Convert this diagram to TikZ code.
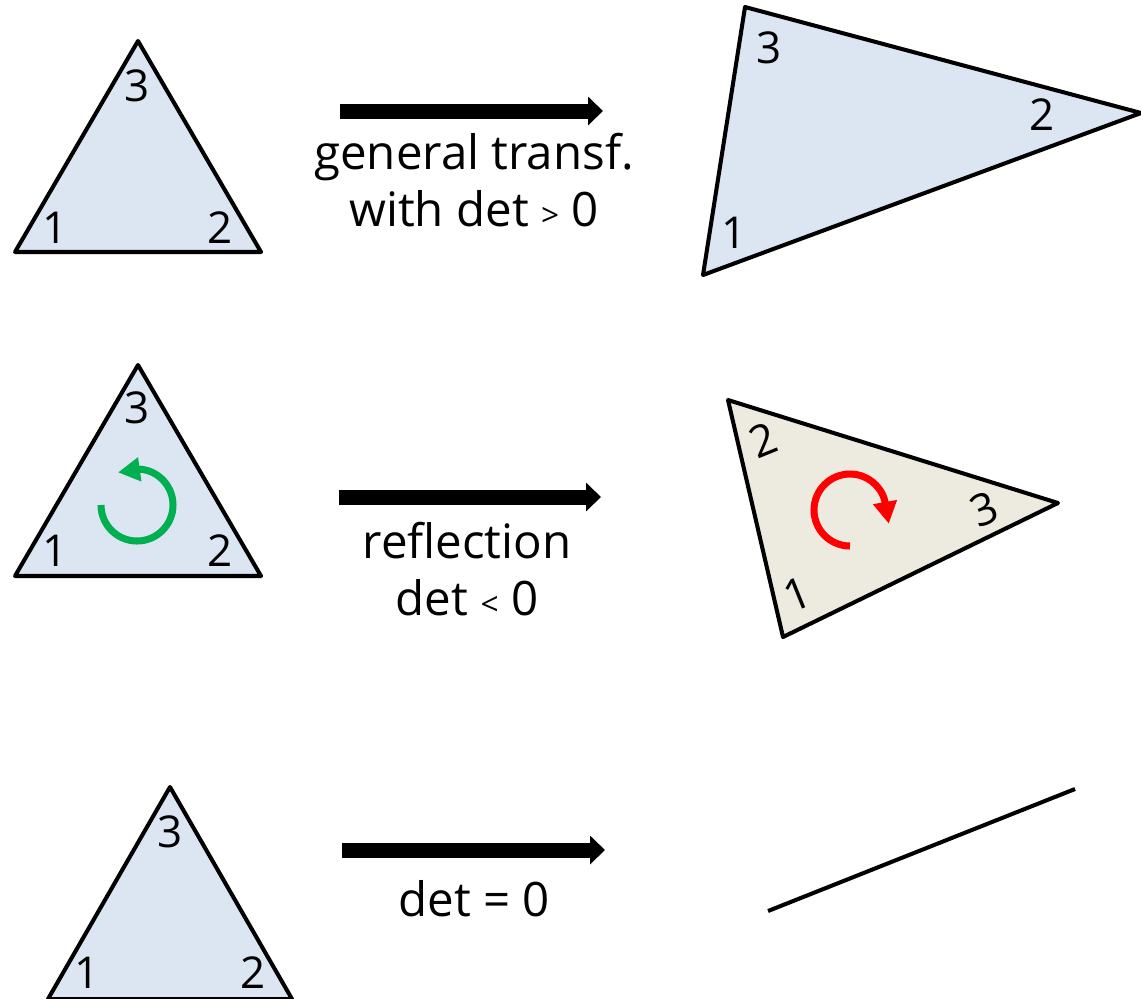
\documentclass[tikz,border=0pt]{standalone}
\usepackage{fontspec}
\setmainfont{Open Sans}
\usetikzlibrary{arrows.meta}
\definecolor{triblue}{HTML}{DCE6F2}
\definecolor{tribeige}{HTML}{EDEBE0}
\definecolor{turngreen}{HTML}{00B050}
\definecolor{turnred}{HTML}{FF0000}
\begin{document}
\begin{tikzpicture}[
		x=0.02cm, y=-0.02cm,
		tri/.style={
			draw,
			line width=2.3pt,
			line join=round
		},
		num/.style={
			inner sep=0pt,
			font=\fontsize{25}{25}\selectfont
		},
		map/.style={
			line width=0.3cm,
			-{Triangle[length=0.3cm, width=0.56cm]}
		},
		lab/.style={
			align=center,
			font=\fontsize{27}{32}\selectfont
		},
		turn/.style={
			line width=4pt,
			-{Triangle[length=0.44cm, width=0.46cm]}
		}
		]
		
		\useasboundingbox (0,0) rectangle (1141,998);
		
		% Left column: original triangles
		\coordinate (a1) at (15,252);
		\coordinate (a2) at (261,252);
		\coordinate (a3) at (138,41);
		\draw[tri, fill=triblue] (a1) -- (a2) -- (a3) -- cycle;
		\node[num] (a1n) at (55,228) {1};
		\node[num] (a2n) at (220,228) {2};
		\node[num] (a3n) at (137,86) {3};
		
		\coordinate (b1) at (15,576);
		\coordinate (b2) at (261,576);
		\coordinate (b3) at (138,365);
		\draw[tri, fill=triblue] (b1) -- (b2) -- (b3) -- cycle;
		\node[num] (b1n) at (55,551) {1};
		\node[num] (b2n) at (220,551) {2};
		\node[num] (b3n) at (137,408) {3};
		\coordinate (bc) at (137,505);
		\draw[turn, turngreen] (bc) ++(-180:36) arc[start angle=-180, end angle=-444, radius=36] -- ++(-188:23);
		
		\coordinate (c1) at (48,999);
		\coordinate (c2) at (292,999);
		\coordinate (c3) at (170,787);
		\draw[tri, fill=triblue] (c1) -- (c2) -- (c3) -- cycle;
		\node[num] (c1n) at (87,973) {1};
		\node[num] (c2n) at (253,973) {2};
		\node[num] (c3n) at (170,832) {3};
		
		% Transformations
		\coordinate (ta) at (340,111);
		\coordinate (tb) at (603,111);
		\draw[map] (ta) -- (tb);
		\node[lab] (tlab) at (474,180) {general transf.\\with det {\fontsize{18}{18}\selectfont >} 0};
		
		\coordinate (ma) at (339,497);
		\coordinate (mb) at (601,497);
		\draw[map] (ma) -- (mb);
		\node[lab] (mlab) at (467,569) {reflection\\det {\fontsize{18}{18}\selectfont <} 0};
		
		\coordinate (ba) at (342,850);
		\coordinate (bb) at (605,850);
		\draw[map] (ba) -- (bb);
		\node[lab] (blab) at (474,899) {det = 0};
		
		% Right column: images
		\coordinate (d1) at (703,275);
		\coordinate (d2) at (1141,113);
		\coordinate (d3) at (745,7);
		\draw[tri, fill=triblue] (d1) -- (d2) -- (d3) -- cycle;
		\node[num] (d1n) at (734,233) {1};
		\node[num] (d2n) at (1042,115) {2};
		\node[num] (d3n) at (769,48) {3};
		
		\coordinate (e1) at (783,637);
		\coordinate (e2) at (728,400);
		\coordinate (e3) at (1058,503);
		\draw[tri, fill=tribeige] (e1) -- (e2) -- (e3) -- cycle;
		\node[num, rotate=22] (e1n) at (797,594) {1};
		\node[num, rotate=22] (e2n) at (763,440) {2};
		\node[num, rotate=22] (e3n) at (984,509) {3};
		\coordinate (ec) at (850,510);
		\draw[turn, turnred] (ec) ++(-270:36) arc[start angle=-270, end angle=-16, radius=36] -- ++(80:24);
		
		\coordinate (f1) at (768,911);
		\coordinate (f2) at (1075,789);
		\draw[line width=2.3pt] (f1) -- (f2);
		
	\end{tikzpicture}
\end{document}
